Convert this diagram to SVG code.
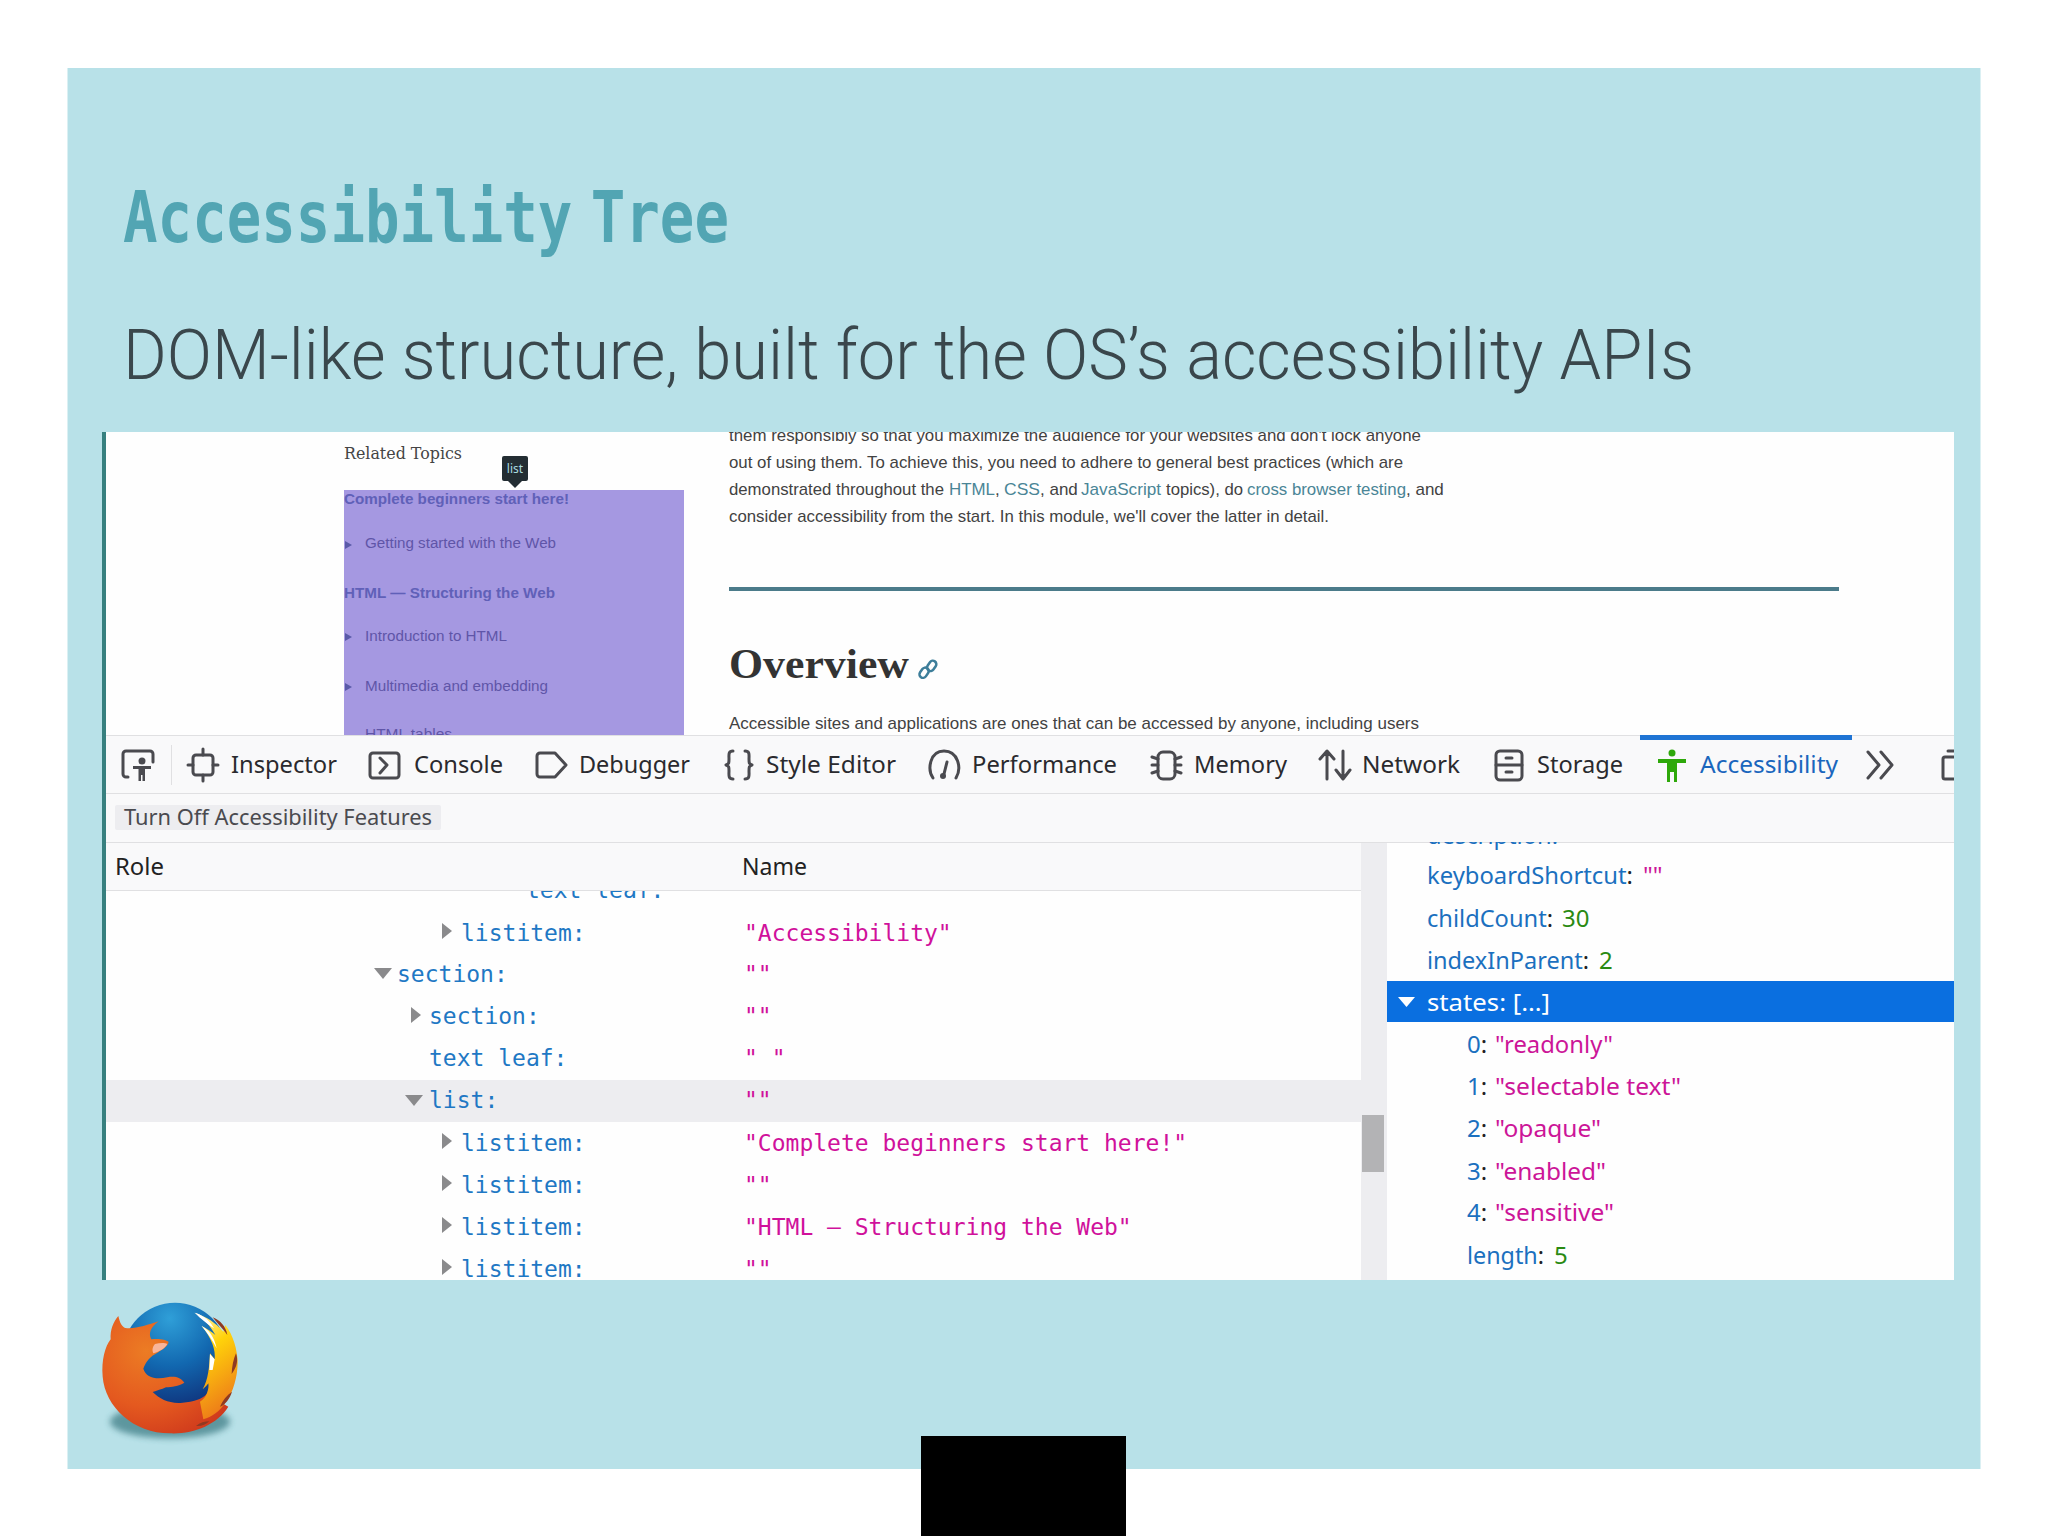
<svg xmlns="http://www.w3.org/2000/svg" width="2048" height="1536" viewBox="0 0 2048 1536">
<style>
text{white-space:pre}
.ui{font-family:"Noto Sans","Open Sans",sans-serif;font-size:24px;fill:#2a2a2e}
.tb{font-size:24px}
.mono{font-family:"DejaVu Sans Mono","Liberation Mono",monospace;font-size:23px}
.role{fill:#1f78c4}
.nm{fill:#d0119b}
.k{fill:#1b70bf}
.s{fill:#cc1598}
.n{fill:#2a8a12}
.p{fill:#222}
.web{font-family:"Liberation Sans",Arial,sans-serif;font-size:17px;fill:#424242}
.lnk{fill:#4a8596}
.side{font-family:"Liberation Sans",Arial,sans-serif;font-size:15.5px;fill:#5f55a8}
.sideb{font-family:"Liberation Sans",Arial,sans-serif;font-size:15.5px;font-weight:700;fill:#6060b8}
.ic{fill:none;stroke:#4a4a4f;stroke-width:3;stroke-linejoin:round;stroke-linecap:round}
.ar{fill:#8a8a8c}
.st{fill:#5a5aa8}
</style>
<defs>
<clipPath id="cw"><rect x="106" y="432" width="1848" height="303"/></clipPath>
<clipPath id="ct"><rect x="106" y="891" width="1255" height="389"/></clipPath>
<clipPath id="cr"><rect x="1387" y="842" width="567" height="438"/></clipPath>
<clipPath id="cb"><rect x="1930" y="742" width="24" height="50"/></clipPath>
<radialGradient id="globe" cx="45%" cy="15%" r="90%"><stop offset="0" stop-color="#2f9fd8"/><stop offset=".5" stop-color="#1268b0"/><stop offset="1" stop-color="#0f2f78"/></radialGradient>
<radialGradient id="fox" cx="35%" cy="30%" r="85%"><stop offset="0" stop-color="#ec7c24"/><stop offset=".55" stop-color="#e4591f"/><stop offset="1" stop-color="#cc351c"/></radialGradient>
<linearGradient id="flame" x1="0" y1="0" x2="0.3" y2="1"><stop offset="0" stop-color="#fff6c0"/><stop offset=".4" stop-color="#ffd20a"/><stop offset="1" stop-color="#ee7f18"/></linearGradient>
<filter id="blur" x="-30%" y="-60%" width="160%" height="220%"><feGaussianBlur stdDeviation="9"/></filter>
</defs>
<rect width="2048" height="1536" fill="#fff"/>
<rect id="panel" x="67.500" y="68" width="1913" height="1401" fill="#b8e1e8"/>
<text id="title" x="123" y="242" font-family="'DejaVu Sans Mono','Liberation Mono',monospace" font-weight="700" font-size="71" word-spacing="-20" fill="#52a5b3" textLength="606" lengthAdjust="spacingAndGlyphs">Accessibility Tree</text>
<text id="subtitle" x="123" y="379" font-family="Roboto,'Noto Sans',sans-serif" font-weight="300" font-size="70" fill="#3a474c" textLength="1571" lengthAdjust="spacingAndGlyphs">DOM-like structure, built for the OS’s accessibility APIs</text>

<g id="screenshot">
<rect x="102" y="432" width="4" height="848" fill="#37807f"/>
<rect x="106" y="432" width="1848" height="848" fill="#fefefe"/>
</g>

<g id="webpage" clip-path="url(#cw)">
<text x="344" y="459" font-family="'DejaVu Serif','Liberation Serif',serif" font-size="17" fill="#444" textLength="118" lengthAdjust="spacingAndGlyphs">Related Topics</text>
<rect x="344" y="490" width="340" height="245" fill="#a598e1"/>
<g id="tooltip"><rect x="502" y="456" width="26" height="25" rx="2" fill="#232d33"/><path d="M508 481h14l-7 7z" fill="#232d33"/><text x="515" y="473" text-anchor="middle" font-family="'Noto Sans',sans-serif" font-size="12" fill="#a9dbe0">list</text></g>
<text class="sideb" x="344" y="504" textLength="225" lengthAdjust="spacingAndGlyphs">Complete beginners start here!</text>
<path class="st" d="M345 541l7 4-7 4z"/><text class="side" x="365" y="548" textLength="191" lengthAdjust="spacingAndGlyphs">Getting started with the Web</text>
<text class="sideb" x="344" y="598" textLength="211" lengthAdjust="spacingAndGlyphs">HTML — Structuring the Web</text>
<path class="st" d="M345 633l7 4-7 4z"/><text class="side" x="365" y="641" textLength="142" lengthAdjust="spacingAndGlyphs">Introduction to HTML</text>
<path class="st" d="M345 683l7 4-7 4z"/><text class="side" x="365" y="691" textLength="183" lengthAdjust="spacingAndGlyphs">Multimedia and embedding</text>
<text class="side" x="365" y="739" textLength="87" lengthAdjust="spacingAndGlyphs">HTML tables</text>
<text class="web" x="729" y="441" textLength="692" lengthAdjust="spacingAndGlyphs">them responsibly so that you maximize the audience for your websites and don't lock anyone</text>
<text class="web" x="729" y="468" textLength="674" lengthAdjust="spacingAndGlyphs">out of using them. To achieve this, you need to adhere to general best practices (which are</text>
<text class="web" x="729" y="495" textLength="215" lengthAdjust="spacingAndGlyphs">demonstrated throughout the</text>
<text class="web lnk" x="949" y="495" textLength="46" lengthAdjust="spacingAndGlyphs">HTML</text>
<text class="web" x="995" y="495">,</text>
<text class="web lnk" x="1004" y="495" textLength="36" lengthAdjust="spacingAndGlyphs">CSS</text>
<text class="web" x="1040" y="495">, and</text>
<text class="web lnk" x="1081" y="495" textLength="80" lengthAdjust="spacingAndGlyphs">JavaScript</text>
<text class="web" x="1166" y="495" textLength="77" lengthAdjust="spacingAndGlyphs">topics), do</text>
<text class="web lnk" x="1247" y="495" textLength="159" lengthAdjust="spacingAndGlyphs">cross browser testing</text>
<text class="web" x="1406" y="495">, and</text>
<text class="web" x="729" y="522" textLength="600" lengthAdjust="spacingAndGlyphs">consider accessibility from the start. In this module, we'll cover the latter in detail.</text>
<rect x="729" y="587" width="1110" height="4" fill="#4b7b8a"/>
<text x="729" y="678" font-family="'Liberation Serif',serif" font-weight="700" font-size="43" fill="#333" textLength="180" lengthAdjust="spacingAndGlyphs">Overview</text>
<g fill="none" stroke="#3d7e9a" stroke-width="2.500"><rect x="921" y="667" width="7" height="11" rx="3.500" transform="rotate(35 924 672)"/><rect x="928" y="660" width="7" height="11" rx="3.500" transform="rotate(35 931 666)"/></g>
<text class="web" x="729" y="729" textLength="690" lengthAdjust="spacingAndGlyphs">Accessible sites and applications are ones that can be accessed by anyone, including users</text>
</g>

<g id="toolbar">
<rect x="106" y="735" width="1848" height="58" fill="#f9f9fa"/>
<rect x="106" y="735" width="1848" height="1" fill="#e0e0e2"/>
<rect x="106" y="793" width="1848" height="1" fill="#e0e0e2"/>
<rect x="1640" y="735" width="212" height="5" fill="#1f74d4"/>
<rect x="171" y="745" width="1" height="40" fill="#e0e0e2"/>
<path class="ic" d="M128 777h-2a3 3 0 0 1-3-3v-20a3 3 0 0 1 3-3h24a3 3 0 0 1 3 3v8"/>
<circle cx="142" cy="761" r="3.500" fill="#4a4a4f"/><path d="M133 766h18v3h-6v12h-2.500v-6h-1.500v6h-2.500v-12h-5.500z" fill="#4a4a4f"/>
<rect class="ic" x="193" y="755" width="20" height="20" rx="3"/><path class="ic" d="M203 749v6M203 775v6M188 765h5M213 765h5"/>
<text class="ui tb" x="231" y="773" textLength="106" lengthAdjust="spacingAndGlyphs">Inspector</text>
<rect class="ic" x="370" y="753" width="29" height="25" rx="3"/><path class="ic" d="M380 758l7 7-7 8" stroke-width="2"/>
<text class="ui tb" x="414" y="773" textLength="89" lengthAdjust="spacingAndGlyphs">Console</text>
<path class="ic" d="M537 756a3 3 0 0 1 3-3h15l11 12-11 12h-15a3 3 0 0 1-3-3z"/>
<text class="ui tb" x="579" y="773" textLength="111" lengthAdjust="spacingAndGlyphs">Debugger</text>
<path class="ic" d="M733 751c-5 0-4 4-4 8s0 5-3 6c3 1 3 2 3 6s-1 8 4 8M745 751c5 0 4 4 4 8s0 5 3 6c-3 1-3 2-3 6s1 8-4 8"/>
<text class="ui tb" x="766" y="773" textLength="130" lengthAdjust="spacingAndGlyphs">Style Editor</text>
<path class="ic" d="M933 778c-6-9-3-27 11-27s18 17 12 27"/><path class="ic" d="M947 762l-3 12"/><circle cx="943" cy="776" r="3" fill="#4a4a4f"/>
<text class="ui tb" x="972" y="773" textLength="145" lengthAdjust="spacingAndGlyphs">Performance</text>
<rect class="ic" x="1158" y="752" width="17" height="27" rx="5"/><path class="ic" d="M1152 757l6 2M1152 765h6M1152 773l6-2M1181 757l-6 2M1181 765h-6M1181 773l-6-2" stroke-width="2.500"/>
<text class="ui tb" x="1194" y="773" textLength="93" lengthAdjust="spacingAndGlyphs">Memory</text>
<path class="ic" d="M1327 779v-27M1320 759l7-8 7 8M1343 751v27M1336 770l7 9 7-9"/>
<text class="ui tb" x="1362" y="773" textLength="98" lengthAdjust="spacingAndGlyphs">Network</text>
<rect class="ic" x="1496" y="751" width="26" height="29" rx="4"/><path class="ic" d="M1496 765h26M1506 758h6M1506 772h6"/>
<text class="ui tb" x="1537" y="773" textLength="86" lengthAdjust="spacingAndGlyphs">Storage</text>
<circle cx="1672" cy="753" r="3.500" fill="#2ea80a"/><path d="M1658 759h28v4h-9v19h-3v-10h-4v10h-3v-19h-9z" fill="#2ea80a"/>
<text class="ui tb" x="1700" y="773" textLength="138" lengthAdjust="spacingAndGlyphs" style="fill:#1a66bd">Accessibility</text>
<path class="ic" d="M1868 752l11 13-11 13M1881 752l11 13-11 13"/>
<g clip-path="url(#cb)"><rect class="ic" x="1943" y="757" width="18" height="22" rx="2"/><path class="ic" d="M1948 751h8"/></g>
</g>

<g id="subbar">
<rect x="106" y="794" width="1848" height="48" fill="#f9f9fa"/>
<rect x="106" y="842" width="1848" height="1" fill="#e0e0e2"/>
<rect x="115" y="805" width="326" height="25" rx="2" fill="#ededf0"/>
<text class="ui" x="124" y="825" style="font-size:22px;fill:#4a4a4f" textLength="308" lengthAdjust="spacingAndGlyphs">Turn Off Accessibility Features</text>
</g>

<g id="tree">
<rect x="106" y="843" width="1255" height="47" fill="#f9f9fa"/>
<rect x="106" y="890" width="1255" height="1" fill="#e0e0e2"/>
<text class="ui" x="115" y="875" textLength="49" lengthAdjust="spacingAndGlyphs" style="fill:#222">Role</text>
<text class="ui" x="742" y="875" textLength="65" lengthAdjust="spacingAndGlyphs" style="fill:#222">Name</text>
<rect x="106" y="1080" width="1255" height="42" fill="#ededf0"/>
<g clip-path="url(#ct)">
<text class="mono role" x="526" y="898">text leaf:</text>
<path class="ar" d="M442 923l10 8-10 8z"/><text class="mono role" x="461" y="941">listitem:</text><text class="mono nm" x="744" y="941">"Accessibility"</text>
<path class="ar" d="M374 968h18l-9 11z"/><text class="mono role" x="397" y="982">section:</text><text class="mono nm" x="744" y="982">""</text>
<path class="ar" d="M411 1007l10 8-10 8z"/><text class="mono role" x="429" y="1024">section:</text><text class="mono nm" x="744" y="1024">""</text>
<text class="mono role" x="429" y="1066">text leaf:</text><text class="mono nm" x="744" y="1066">" "</text>
<path class="ar" d="M405 1095h18l-9 11z"/><text class="mono role" x="429" y="1108">list:</text><text class="mono nm" x="744" y="1108">""</text>
<path class="ar" d="M442 1133l10 8-10 8z"/><text class="mono role" x="461" y="1151">listitem:</text><text class="mono nm" x="744" y="1151">"Complete beginners start here!"</text>
<path class="ar" d="M442 1175l10 8-10 8z"/><text class="mono role" x="461" y="1193">listitem:</text><text class="mono nm" x="744" y="1193">""</text>
<path class="ar" d="M442 1217l10 8-10 8z"/><text class="mono role" x="461" y="1235">listitem:</text><text class="mono nm" x="744" y="1235">"HTML – Structuring the Web"</text>
<path class="ar" d="M442 1259l10 8-10 8z"/><text class="mono role" x="461" y="1277">listitem:</text><text class="mono nm" x="744" y="1277">""</text>
</g>
<rect x="1361" y="843" width="26" height="437" fill="#ededf0"/>
<rect x="1362" y="1115" width="22" height="57" fill="#b3b3b5"/>
</g>

<g id="properties">
<rect x="1387" y="843" width="567" height="437" fill="#fefefe"/>
<g clip-path="url(#cr)">
<text class="ui k" x="1427" y="844" textLength="131" lengthAdjust="spacingAndGlyphs">description:</text>
<text class="ui" x="1427" y="884" textLength="206" lengthAdjust="spacingAndGlyphs"><tspan class="k">keyboardShortcut</tspan><tspan class="p">:</tspan></text><text class="ui s" x="1643" y="884">""</text>
<text class="ui" x="1427" y="927" textLength="126" lengthAdjust="spacingAndGlyphs"><tspan class="k">childCount</tspan><tspan class="p">:</tspan></text><text class="ui n" x="1562" y="927">30</text>
<text class="ui" x="1427" y="969" textLength="162" lengthAdjust="spacingAndGlyphs"><tspan class="k">indexInParent</tspan><tspan class="p">:</tspan></text><text class="ui n" x="1599" y="969">2</text>
<rect x="1387" y="981" width="567" height="41" fill="#0a6fe0"/>
<path d="M1398 997h17l-8.500 10z" fill="#fff"/>
<text class="ui" x="1427" y="1011" style="fill:#fff" textLength="123" lengthAdjust="spacingAndGlyphs">states: […]</text>
<text class="ui" x="1467" y="1053"><tspan class="k">0</tspan><tspan class="p">:</tspan></text><text class="ui s" x="1495" y="1053" textLength="118" lengthAdjust="spacingAndGlyphs">"readonly"</text>
<text class="ui" x="1467" y="1095"><tspan class="k">1</tspan><tspan class="p">:</tspan></text><text class="ui s" x="1495" y="1095" textLength="186" lengthAdjust="spacingAndGlyphs">"selectable text"</text>
<text class="ui" x="1467" y="1137"><tspan class="k">2</tspan><tspan class="p">:</tspan></text><text class="ui s" x="1495" y="1137" textLength="106" lengthAdjust="spacingAndGlyphs">"opaque"</text>
<text class="ui" x="1467" y="1180"><tspan class="k">3</tspan><tspan class="p">:</tspan></text><text class="ui s" x="1495" y="1180" textLength="111" lengthAdjust="spacingAndGlyphs">"enabled"</text>
<text class="ui" x="1467" y="1221"><tspan class="k">4</tspan><tspan class="p">:</tspan></text><text class="ui s" x="1495" y="1221" textLength="119" lengthAdjust="spacingAndGlyphs">"sensitive"</text>
<text class="ui" x="1467" y="1264" textLength="77" lengthAdjust="spacingAndGlyphs"><tspan class="k">length</tspan><tspan class="p">:</tspan></text><text class="ui n" x="1554" y="1264">5</text>
</g>
</g>

<g id="firefox" transform="translate(60 1270) scale(.3333)">
<ellipse cx="330" cy="455" rx="180" ry="50" fill="#2f6f78" opacity=".65" filter="url(#blur)"/>
<circle cx="345" cy="255" r="157" fill="url(#globe)"/>
<path d="M175 138C180 160 186 170 196 174C225 178 262 165 296 154C272 172 264 190 274 208C295 205 318 208 326 216C322 232 306 238 290 250C272 258 258 275 250 296C258 322 286 330 322 322C345 318 362 322 373 338C355 350 335 350 318 352C305 358 290 362 278 366C300 388 330 402 368 398C400 396 425 388 440 372L505 410C470 465 400 493 330 490C220 490 135 410 128 320C124 270 135 230 152 208C150 180 160 155 175 138Z" fill="url(#fox)"/>
<path d="M403 128C440 140 470 160 490 185L496 165C520 195 532 240 533 275C533 320 520 365 498 395C480 425 455 440 430 448L420 395C440 385 448 355 445 340C438 350 432 355 428 358C445 330 448 290 450 250L464 268C468 240 455 205 425 168C440 175 455 185 466 195C450 165 430 145 403 128Z" fill="url(#flame)"/>
<path d="M405 128C435 138 452 155 462 175C440 160 420 145 405 128ZM425 168C445 178 462 198 470 235C458 212 442 188 425 168ZM450 252L464 268L458 300L448 300Z" fill="#fff"/>
<path d="M458 142C480 150 498 170 502 195C490 178 472 160 458 142ZM528 250C535 270 532 290 515 312C516 290 520 268 528 250ZM516 365C510 385 495 405 480 410C488 392 500 375 516 365ZM408 468C420 458 435 454 448 454C438 464 422 470 408 468Z" fill="#8f3a22"/>
<path d="M285 222C300 218 315 218 322 222C315 236 295 246 280 250C275 240 278 230 285 222Z" fill="#f8b59a"/>
</g>

<rect id="black-bar" x="921" y="1436" width="205" height="100" fill="#000"/>
</svg>
